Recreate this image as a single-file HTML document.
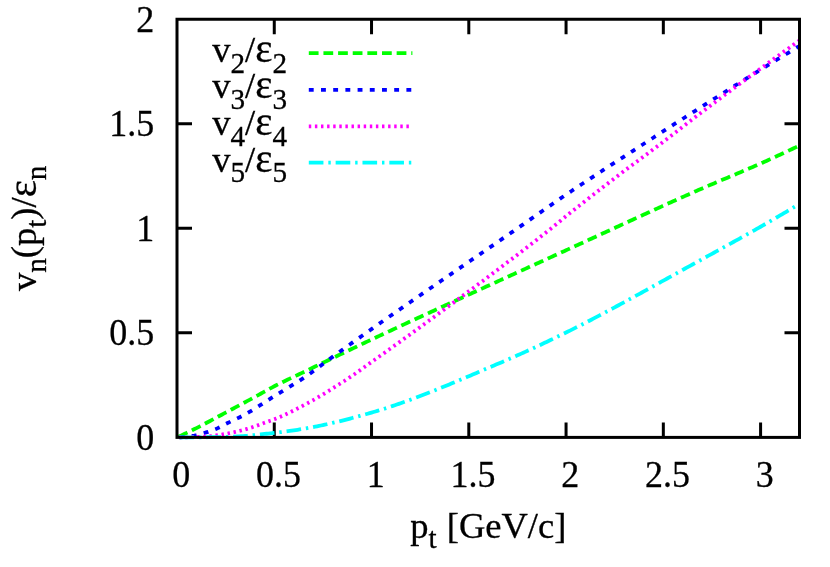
<!DOCTYPE html>
<html><head><meta charset="utf-8"><title>v_n(p_t)/eps_n</title>
<style>
html,body{margin:0;padding:0;background:#fff;}
body{width:830px;height:567px;overflow:hidden;}
svg{display:block;will-change:transform;}
text{font-family:"Liberation Serif",serif;fill:#000;stroke:#000;stroke-width:0.3px;font-kerning:none;white-space:pre;}
</style></head><body>
<svg width="830" height="567" viewBox="0 0 830 567">
<rect x="0" y="0" width="830" height="567" fill="#ffffff"/>
<defs><clipPath id="cp"><rect x="177.0" y="19.25" width="622.5" height="421.15"/></clipPath></defs>

<g fill="none" stroke="#000" stroke-width="3.0" stroke-linecap="butt">
<path d="M274.27 437.4 V422.40 M274.27 19.25 V34.25"/>
<path d="M371.53 437.4 V422.40 M371.53 19.25 V34.25"/>
<path d="M468.80 437.4 V422.40 M468.80 19.25 V34.25"/>
<path d="M566.06 437.4 V422.40 M566.06 19.25 V34.25"/>
<path d="M663.33 437.4 V422.40 M663.33 19.25 V34.25"/>
<path d="M760.59 437.4 V422.40 M760.59 19.25 V34.25"/>
<path d="M177.0 332.86 H192.00 M799.5 332.86 H784.50"/>
<path d="M177.0 228.32 H192.00 M799.5 228.32 H784.50"/>
<path d="M177.0 123.79 H192.00 M799.5 123.79 H784.50"/>
</g>
<g fill="none" stroke-width="3.80" clip-path="url(#cp)">
<path d="M177.00 437.40 L178.95 436.51 L180.89 435.61 L182.84 434.70 L184.78 433.78 L186.73 432.86 L188.67 431.92 L190.62 430.98 L192.56 430.03 L194.51 429.06 L196.45 428.08 L198.40 427.09 L200.34 426.09 L202.29 425.08 L204.23 424.06 L206.18 423.03 L208.12 422.00 L210.07 420.96 L212.02 419.92 L213.96 418.88 L215.91 417.83 L217.85 416.79 L219.80 415.75 L221.74 414.71 L223.69 413.68 L225.63 412.64 L227.58 411.61 L229.52 410.57 L231.47 409.53 L233.41 408.49 L235.36 407.44 L237.30 406.40 L239.25 405.35 L241.20 404.31 L243.14 403.26 L245.09 402.21 L247.03 401.16 L248.98 400.11 L250.92 399.05 L252.87 398.00 L254.81 396.94 L256.76 395.88 L258.70 394.80 L260.65 393.72 L262.59 392.63 L264.54 391.55 L266.48 390.47 L268.43 389.39 L270.38 388.34 L272.32 387.30 L274.27 386.28 L276.21 385.28 L278.16 384.30 L280.10 383.33 L282.05 382.37 L283.99 381.42 L285.94 380.48 L287.88 379.54 L289.83 378.62 L291.77 377.69 L293.72 376.77 L295.66 375.85 L297.61 374.93 L299.55 374.02 L301.50 373.10 L303.45 372.17 L305.39 371.24 L307.34 370.31 L309.28 369.37 L311.23 368.44 L313.17 367.50 L315.12 366.56 L317.06 365.62 L319.01 364.69 L320.95 363.75 L322.90 362.81 L324.84 361.87 L326.79 360.94 L328.73 360.00 L330.68 359.06 L332.62 358.12 L334.57 357.19 L336.52 356.25 L338.46 355.32 L340.41 354.38 L342.35 353.45 L344.30 352.51 L346.24 351.58 L348.19 350.65 L350.13 349.72 L352.08 348.79 L354.02 347.86 L355.97 346.93 L357.91 346.00 L359.86 345.08 L361.80 344.15 L363.75 343.23 L365.70 342.31 L367.64 341.39 L369.59 340.47 L371.53 339.55 L373.48 338.64 L375.42 337.72 L377.37 336.81 L379.31 335.90 L381.26 334.99 L383.20 334.07 L385.15 333.17 L387.09 332.26 L389.04 331.35 L390.98 330.44 L392.93 329.54 L394.88 328.63 L396.82 327.73 L398.77 326.83 L400.71 325.93 L402.66 325.02 L404.60 324.12 L406.55 323.22 L408.49 322.32 L410.44 321.43 L412.38 320.53 L414.33 319.63 L416.27 318.73 L418.22 317.84 L420.16 316.94 L422.11 316.04 L424.05 315.15 L426.00 314.25 L427.95 313.36 L429.89 312.46 L431.84 311.57 L433.78 310.68 L435.73 309.78 L437.67 308.89 L439.62 307.99 L441.56 307.10 L443.51 306.21 L445.45 305.31 L447.40 304.42 L449.34 303.53 L451.29 302.63 L453.23 301.74 L455.18 300.85 L457.12 299.95 L459.07 299.06 L461.02 298.17 L462.96 297.27 L464.91 296.38 L466.85 295.49 L468.80 294.60 L470.74 293.71 L472.69 292.82 L474.63 291.93 L476.58 291.04 L478.52 290.15 L480.47 289.26 L482.41 288.37 L484.36 287.48 L486.30 286.59 L488.25 285.70 L490.20 284.82 L492.14 283.93 L494.09 283.04 L496.03 282.15 L497.98 281.27 L499.92 280.38 L501.87 279.49 L503.81 278.61 L505.76 277.72 L507.70 276.83 L509.65 275.95 L511.59 275.06 L513.54 274.18 L515.48 273.29 L517.43 272.41 L519.38 271.52 L521.32 270.64 L523.27 269.75 L525.21 268.87 L527.16 267.98 L529.10 267.10 L531.05 266.21 L532.99 265.33 L534.94 264.44 L536.88 263.56 L538.83 262.67 L540.77 261.79 L542.72 260.90 L544.66 260.02 L546.61 259.13 L548.55 258.25 L550.50 257.36 L552.45 256.48 L554.39 255.59 L556.34 254.71 L558.28 253.82 L560.23 252.94 L562.17 252.05 L564.12 251.16 L566.06 250.28 L568.01 249.39 L569.95 248.50 L571.90 247.62 L573.84 246.73 L575.79 245.84 L577.73 244.95 L579.68 244.06 L581.62 243.17 L583.57 242.28 L585.52 241.38 L587.46 240.49 L589.41 239.60 L591.35 238.70 L593.30 237.81 L595.24 236.92 L597.19 236.02 L599.13 235.13 L601.08 234.23 L603.02 233.34 L604.97 232.44 L606.91 231.55 L608.86 230.65 L610.80 229.76 L612.75 228.86 L614.70 227.97 L616.64 227.07 L618.59 226.18 L620.53 225.28 L622.48 224.39 L624.42 223.50 L626.37 222.60 L628.31 221.71 L630.26 220.82 L632.20 219.92 L634.15 219.03 L636.09 218.14 L638.04 217.25 L639.98 216.36 L641.93 215.47 L643.88 214.58 L645.82 213.69 L647.77 212.80 L649.71 211.92 L651.66 211.03 L653.60 210.15 L655.55 209.26 L657.49 208.38 L659.44 207.49 L661.38 206.61 L663.33 205.73 L665.27 204.85 L667.22 203.97 L669.16 203.10 L671.11 202.22 L673.05 201.35 L675.00 200.47 L676.95 199.60 L678.89 198.73 L680.84 197.86 L682.78 196.99 L684.73 196.12 L686.67 195.26 L688.62 194.40 L690.56 193.53 L692.51 192.67 L694.45 191.81 L696.40 190.96 L698.34 190.10 L700.29 189.25 L702.23 188.40 L704.18 187.55 L706.12 186.71 L708.07 185.87 L710.02 185.04 L711.96 184.21 L713.91 183.39 L715.85 182.56 L717.80 181.74 L719.74 180.92 L721.69 180.10 L723.63 179.29 L725.58 178.47 L727.52 177.65 L729.47 176.84 L731.41 176.02 L733.36 175.21 L735.30 174.39 L737.25 173.57 L739.20 172.75 L741.14 171.93 L743.09 171.10 L745.03 170.28 L746.98 169.44 L748.92 168.61 L750.87 167.77 L752.81 166.93 L754.76 166.08 L756.70 165.23 L758.65 164.37 L760.59 163.51 L762.54 162.64 L764.48 161.77 L766.43 160.90 L768.38 160.02 L770.32 159.14 L772.27 158.25 L774.21 157.36 L776.16 156.47 L778.10 155.57 L780.05 154.67 L781.99 153.77 L783.94 152.86 L785.88 151.96 L787.83 151.05 L789.77 150.13 L791.72 149.22 L793.66 148.30 L795.61 147.38 L797.55 146.46 L799.50 145.53" stroke="#00ff00" stroke-dasharray="9.76 4.88" stroke-dashoffset="-1.8"/>
<path d="M177.00 437.40 L178.95 437.35 L180.89 437.25 L182.84 437.10 L184.78 436.90 L186.73 436.68 L188.67 436.43 L190.62 436.16 L192.56 435.87 L194.51 435.57 L196.45 435.18 L198.40 434.71 L200.34 434.17 L202.29 433.60 L204.23 433.01 L206.18 432.43 L208.12 431.82 L210.07 431.17 L212.02 430.49 L213.96 429.76 L215.91 428.99 L217.85 428.14 L219.80 427.16 L221.74 426.11 L223.69 425.05 L225.63 424.02 L227.58 423.05 L229.52 422.10 L231.47 421.16 L233.41 420.23 L235.36 419.31 L237.30 418.37 L239.25 417.42 L241.20 416.45 L243.14 415.44 L245.09 414.40 L247.03 413.32 L248.98 412.20 L250.92 411.05 L252.87 409.87 L254.81 408.67 L256.76 407.45 L258.70 406.21 L260.65 404.97 L262.59 403.71 L264.54 402.45 L266.48 401.19 L268.43 399.93 L270.38 398.68 L272.32 397.44 L274.27 396.21 L276.21 395.00 L278.16 393.80 L280.10 392.61 L282.05 391.42 L283.99 390.23 L285.94 389.05 L287.88 387.86 L289.83 386.67 L291.77 385.47 L293.72 384.27 L295.66 383.06 L297.61 381.83 L299.55 380.60 L301.50 379.34 L303.45 378.07 L305.39 376.77 L307.34 375.46 L309.28 374.11 L311.23 372.72 L313.17 371.31 L315.12 369.88 L317.06 368.43 L319.01 366.97 L320.95 365.50 L322.90 364.03 L324.84 362.57 L326.79 361.12 L328.73 359.68 L330.68 358.26 L332.62 356.85 L334.57 355.44 L336.52 354.04 L338.46 352.63 L340.41 351.23 L342.35 349.84 L344.30 348.44 L346.24 347.05 L348.19 345.65 L350.13 344.26 L352.08 342.88 L354.02 341.49 L355.97 340.11 L357.91 338.73 L359.86 337.35 L361.80 335.97 L363.75 334.59 L365.70 333.22 L367.64 331.84 L369.59 330.47 L371.53 329.10 L373.48 327.73 L375.42 326.36 L377.37 325.00 L379.31 323.63 L381.26 322.27 L383.20 320.91 L385.15 319.55 L387.09 318.19 L389.04 316.83 L390.98 315.47 L392.93 314.12 L394.88 312.76 L396.82 311.41 L398.77 310.06 L400.71 308.71 L402.66 307.36 L404.60 306.01 L406.55 304.66 L408.49 303.32 L410.44 301.97 L412.38 300.62 L414.33 299.28 L416.27 297.94 L418.22 296.59 L420.16 295.25 L422.11 293.91 L424.05 292.57 L426.00 291.23 L427.95 289.89 L429.89 288.55 L431.84 287.22 L433.78 285.88 L435.73 284.54 L437.67 283.20 L439.62 281.87 L441.56 280.53 L443.51 279.20 L445.45 277.86 L447.40 276.53 L449.34 275.19 L451.29 273.86 L453.23 272.52 L455.18 271.19 L457.12 269.86 L459.07 268.52 L461.02 267.19 L462.96 265.86 L464.91 264.52 L466.85 263.19 L468.80 261.85 L470.74 260.52 L472.69 259.19 L474.63 257.85 L476.58 256.52 L478.52 255.18 L480.47 253.85 L482.41 252.51 L484.36 251.18 L486.30 249.84 L488.25 248.50 L490.20 247.17 L492.14 245.83 L494.09 244.49 L496.03 243.15 L497.98 241.81 L499.92 240.47 L501.87 239.13 L503.81 237.79 L505.76 236.45 L507.70 235.11 L509.65 233.76 L511.59 232.42 L513.54 231.07 L515.48 229.73 L517.43 228.38 L519.38 227.03 L521.32 225.68 L523.27 224.32 L525.21 222.96 L527.16 221.60 L529.10 220.24 L531.05 218.88 L532.99 217.52 L534.94 216.16 L536.88 214.80 L538.83 213.44 L540.77 212.08 L542.72 210.73 L544.66 209.37 L546.61 208.02 L548.55 206.66 L550.50 205.32 L552.45 203.97 L554.39 202.63 L556.34 201.29 L558.28 199.95 L560.23 198.62 L562.17 197.30 L564.12 195.98 L566.06 194.66 L568.01 193.35 L569.95 192.05 L571.90 190.74 L573.84 189.44 L575.79 188.14 L577.73 186.84 L579.68 185.55 L581.62 184.26 L583.57 182.97 L585.52 181.68 L587.46 180.40 L589.41 179.12 L591.35 177.84 L593.30 176.56 L595.24 175.28 L597.19 174.01 L599.13 172.74 L601.08 171.47 L603.02 170.20 L604.97 168.93 L606.91 167.66 L608.86 166.40 L610.80 165.13 L612.75 163.87 L614.70 162.61 L616.64 161.35 L618.59 160.09 L620.53 158.83 L622.48 157.57 L624.42 156.31 L626.37 155.06 L628.31 153.80 L630.26 152.55 L632.20 151.29 L634.15 150.04 L636.09 148.78 L638.04 147.53 L639.98 146.27 L641.93 145.02 L643.88 143.76 L645.82 142.50 L647.77 141.25 L649.71 139.99 L651.66 138.74 L653.60 137.48 L655.55 136.22 L657.49 134.97 L659.44 133.72 L661.38 132.46 L663.33 131.21 L665.27 129.96 L667.22 128.71 L669.16 127.46 L671.11 126.22 L673.05 124.97 L675.00 123.72 L676.95 122.48 L678.89 121.23 L680.84 119.99 L682.78 118.75 L684.73 117.50 L686.67 116.26 L688.62 115.02 L690.56 113.78 L692.51 112.54 L694.45 111.31 L696.40 110.07 L698.34 108.83 L700.29 107.60 L702.23 106.36 L704.18 105.13 L706.12 103.89 L708.07 102.66 L710.02 101.43 L711.96 100.19 L713.91 98.96 L715.85 97.73 L717.80 96.50 L719.74 95.27 L721.69 94.04 L723.63 92.81 L725.58 91.58 L727.52 90.35 L729.47 89.13 L731.41 87.90 L733.36 86.68 L735.30 85.46 L737.25 84.24 L739.20 83.02 L741.14 81.80 L743.09 80.59 L745.03 79.37 L746.98 78.16 L748.92 76.95 L750.87 75.74 L752.81 74.53 L754.76 73.33 L756.70 72.12 L758.65 70.92 L760.59 69.72 L762.54 68.52 L764.48 67.32 L766.43 66.13 L768.38 64.93 L770.32 63.74 L772.27 62.55 L774.21 61.36 L776.16 60.17 L778.10 58.98 L780.05 57.79 L781.99 56.61 L783.94 55.43 L785.88 54.24 L787.83 53.06 L789.77 51.88 L791.72 50.71 L793.66 49.53 L795.61 48.36 L797.55 47.18 L799.50 46.01" stroke="#0000ff" stroke-dasharray="4.88 7.32" stroke-dashoffset="-2.7"/>
<path d="M177.00 437.40 L178.95 437.40 L180.89 437.38 L182.84 437.36 L184.78 437.33 L186.73 437.29 L188.67 437.24 L190.62 437.19 L192.56 437.13 L194.51 437.07 L196.45 437.00 L198.40 436.92 L200.34 436.84 L202.29 436.75 L204.23 436.66 L206.18 436.56 L208.12 436.44 L210.07 436.26 L212.02 436.05 L213.96 435.79 L215.91 435.50 L217.85 435.19 L219.80 434.87 L221.74 434.53 L223.69 434.19 L225.63 433.85 L227.58 433.50 L229.52 433.13 L231.47 432.74 L233.41 432.32 L235.36 431.89 L237.30 431.44 L239.25 430.97 L241.20 430.48 L243.14 429.97 L245.09 429.46 L247.03 428.91 L248.98 428.32 L250.92 427.70 L252.87 427.05 L254.81 426.37 L256.76 425.68 L258.70 424.97 L260.65 424.26 L262.59 423.54 L264.54 422.82 L266.48 422.11 L268.43 421.41 L270.38 420.73 L272.32 420.06 L274.27 419.34 L276.21 418.55 L278.16 417.74 L280.10 416.91 L282.05 416.05 L283.99 415.16 L285.94 414.26 L287.88 413.33 L289.83 412.39 L291.77 411.43 L293.72 410.46 L295.66 409.47 L297.61 408.46 L299.55 407.45 L301.50 406.43 L303.45 405.40 L305.39 404.36 L307.34 403.32 L309.28 402.27 L311.23 401.19 L313.17 400.11 L315.12 399.00 L317.06 397.88 L319.01 396.75 L320.95 395.60 L322.90 394.44 L324.84 393.26 L326.79 392.08 L328.73 390.88 L330.68 389.68 L332.62 388.46 L334.57 387.23 L336.52 386.00 L338.46 384.76 L340.41 383.51 L342.35 382.25 L344.30 380.99 L346.24 379.72 L348.19 378.43 L350.13 377.12 L352.08 375.79 L354.02 374.44 L355.97 373.09 L357.91 371.72 L359.86 370.34 L361.80 368.96 L363.75 367.57 L365.70 366.18 L367.64 364.79 L369.59 363.41 L371.53 362.03 L373.48 360.65 L375.42 359.27 L377.37 357.89 L379.31 356.51 L381.26 355.12 L383.20 353.74 L385.15 352.35 L387.09 350.96 L389.04 349.57 L390.98 348.18 L392.93 346.79 L394.88 345.39 L396.82 344.00 L398.77 342.60 L400.71 341.20 L402.66 339.80 L404.60 338.40 L406.55 336.99 L408.49 335.59 L410.44 334.18 L412.38 332.77 L414.33 331.36 L416.27 329.95 L418.22 328.54 L420.16 327.13 L422.11 325.71 L424.05 324.29 L426.00 322.87 L427.95 321.45 L429.89 320.03 L431.84 318.61 L433.78 317.18 L435.73 315.76 L437.67 314.33 L439.62 312.90 L441.56 311.47 L443.51 310.04 L445.45 308.60 L447.40 307.17 L449.34 305.73 L451.29 304.29 L453.23 302.85 L455.18 301.41 L457.12 299.96 L459.07 298.52 L461.02 297.08 L462.96 295.63 L464.91 294.19 L466.85 292.75 L468.80 291.30 L470.74 289.85 L472.69 288.40 L474.63 286.96 L476.58 285.51 L478.52 284.06 L480.47 282.60 L482.41 281.15 L484.36 279.69 L486.30 278.24 L488.25 276.78 L490.20 275.32 L492.14 273.86 L494.09 272.40 L496.03 270.93 L497.98 269.47 L499.92 268.00 L501.87 266.53 L503.81 265.06 L505.76 263.58 L507.70 262.11 L509.65 260.63 L511.59 259.15 L513.54 257.66 L515.48 256.18 L517.43 254.69 L519.38 253.20 L521.32 251.70 L523.27 250.21 L525.21 248.71 L527.16 247.20 L529.10 245.70 L531.05 244.19 L532.99 242.68 L534.94 241.16 L536.88 239.64 L538.83 238.12 L540.77 236.60 L542.72 235.07 L544.66 233.54 L546.61 232.00 L548.55 230.46 L550.50 228.91 L552.45 227.34 L554.39 225.75 L556.34 224.16 L558.28 222.55 L560.23 220.95 L562.17 219.35 L564.12 217.77 L566.06 216.20 L568.01 214.64 L569.95 213.09 L571.90 211.54 L573.84 209.99 L575.79 208.45 L577.73 206.90 L579.68 205.37 L581.62 203.83 L583.57 202.30 L585.52 200.77 L587.46 199.24 L589.41 197.71 L591.35 196.19 L593.30 194.67 L595.24 193.16 L597.19 191.65 L599.13 190.14 L601.08 188.63 L603.02 187.12 L604.97 185.62 L606.91 184.12 L608.86 182.63 L610.80 181.13 L612.75 179.64 L614.70 178.15 L616.64 176.67 L618.59 175.19 L620.53 173.71 L622.48 172.25 L624.42 170.79 L626.37 169.33 L628.31 167.88 L630.26 166.43 L632.20 164.99 L634.15 163.55 L636.09 162.11 L638.04 160.67 L639.98 159.23 L641.93 157.80 L643.88 156.36 L645.82 154.92 L647.77 153.48 L649.71 152.04 L651.66 150.59 L653.60 149.14 L655.55 147.69 L657.49 146.23 L659.44 144.76 L661.38 143.29 L663.33 141.81 L665.27 140.33 L667.22 138.84 L669.16 137.35 L671.11 135.85 L673.05 134.35 L675.00 132.85 L676.95 131.34 L678.89 129.84 L680.84 128.33 L682.78 126.82 L684.73 125.31 L686.67 123.81 L688.62 122.30 L690.56 120.80 L692.51 119.30 L694.45 117.80 L696.40 116.30 L698.34 114.81 L700.29 113.33 L702.23 111.85 L704.18 110.37 L706.12 108.90 L708.07 107.43 L710.02 105.97 L711.96 104.51 L713.91 103.05 L715.85 101.59 L717.80 100.14 L719.74 98.69 L721.69 97.24 L723.63 95.79 L725.58 94.34 L727.52 92.90 L729.47 91.46 L731.41 90.02 L733.36 88.58 L735.30 87.14 L737.25 85.71 L739.20 84.27 L741.14 82.84 L743.09 81.41 L745.03 79.98 L746.98 78.55 L748.92 77.12 L750.87 75.69 L752.81 74.26 L754.76 72.84 L756.70 71.41 L758.65 69.99 L760.59 68.57 L762.54 67.15 L764.48 65.73 L766.43 64.32 L768.38 62.90 L770.32 61.49 L772.27 60.07 L774.21 58.66 L776.16 57.25 L778.10 55.85 L780.05 54.44 L781.99 53.03 L783.94 51.63 L785.88 50.23 L787.83 48.83 L789.77 47.43 L791.72 46.03 L793.66 44.63 L795.61 43.24 L797.55 41.84 L799.50 40.45" stroke="#ff00ff" stroke-dasharray="2.44 3.66" stroke-dashoffset="-2.0"/>
<path d="M177.00 437.40 L178.95 437.40 L180.89 437.40 L182.84 437.39 L184.78 437.39 L186.73 437.38 L188.67 437.37 L190.62 437.36 L192.56 437.35 L194.51 437.34 L196.45 437.33 L198.40 437.31 L200.34 437.29 L202.29 437.28 L204.23 437.26 L206.18 437.24 L208.12 437.22 L210.07 437.20 L212.02 437.17 L213.96 437.15 L215.91 437.12 L217.85 437.10 L219.80 437.07 L221.74 437.04 L223.69 437.01 L225.63 436.98 L227.58 436.94 L229.52 436.89 L231.47 436.82 L233.41 436.73 L235.36 436.63 L237.30 436.51 L239.25 436.39 L241.20 436.25 L243.14 436.10 L245.09 435.94 L247.03 435.77 L248.98 435.60 L250.92 435.41 L252.87 435.22 L254.81 435.02 L256.76 434.82 L258.70 434.61 L260.65 434.40 L262.59 434.19 L264.54 433.98 L266.48 433.76 L268.43 433.54 L270.38 433.33 L272.32 433.12 L274.27 432.90 L276.21 432.69 L278.16 432.47 L280.10 432.23 L282.05 431.99 L283.99 431.74 L285.94 431.48 L287.88 431.22 L289.83 430.94 L291.77 430.66 L293.72 430.37 L295.66 430.07 L297.61 429.76 L299.55 429.45 L301.50 429.13 L303.45 428.80 L305.39 428.47 L307.34 428.13 L309.28 427.78 L311.23 427.43 L313.17 427.06 L315.12 426.68 L317.06 426.30 L319.01 425.90 L320.95 425.50 L322.90 425.09 L324.84 424.67 L326.79 424.24 L328.73 423.81 L330.68 423.36 L332.62 422.91 L334.57 422.45 L336.52 421.99 L338.46 421.52 L340.41 421.04 L342.35 420.55 L344.30 420.06 L346.24 419.56 L348.19 419.06 L350.13 418.55 L352.08 418.03 L354.02 417.51 L355.97 416.98 L357.91 416.45 L359.86 415.92 L361.80 415.37 L363.75 414.83 L365.70 414.28 L367.64 413.72 L369.59 413.17 L371.53 412.60 L373.48 412.04 L375.42 411.46 L377.37 410.87 L379.31 410.28 L381.26 409.67 L383.20 409.06 L385.15 408.44 L387.09 407.81 L389.04 407.18 L390.98 406.53 L392.93 405.88 L394.88 405.22 L396.82 404.55 L398.77 403.88 L400.71 403.20 L402.66 402.51 L404.60 401.82 L406.55 401.12 L408.49 400.41 L410.44 399.70 L412.38 398.98 L414.33 398.26 L416.27 397.53 L418.22 396.79 L420.16 396.05 L422.11 395.30 L424.05 394.55 L426.00 393.79 L427.95 393.03 L429.89 392.27 L431.84 391.50 L433.78 390.72 L435.73 389.94 L437.67 389.16 L439.62 388.37 L441.56 387.58 L443.51 386.79 L445.45 385.99 L447.40 385.19 L449.34 384.39 L451.29 383.58 L453.23 382.78 L455.18 381.96 L457.12 381.15 L459.07 380.34 L461.02 379.52 L462.96 378.70 L464.91 377.88 L466.85 377.05 L468.80 376.23 L470.74 375.40 L472.69 374.58 L474.63 373.75 L476.58 372.92 L478.52 372.09 L480.47 371.26 L482.41 370.43 L484.36 369.60 L486.30 368.77 L488.25 367.94 L490.20 367.11 L492.14 366.28 L494.09 365.45 L496.03 364.62 L497.98 363.80 L499.92 362.97 L501.87 362.14 L503.81 361.31 L505.76 360.47 L507.70 359.63 L509.65 358.78 L511.59 357.93 L513.54 357.08 L515.48 356.22 L517.43 355.36 L519.38 354.49 L521.32 353.62 L523.27 352.74 L525.21 351.86 L527.16 350.98 L529.10 350.09 L531.05 349.20 L532.99 348.30 L534.94 347.40 L536.88 346.50 L538.83 345.59 L540.77 344.68 L542.72 343.76 L544.66 342.84 L546.61 341.92 L548.55 340.99 L550.50 340.06 L552.45 339.13 L554.39 338.19 L556.34 337.25 L558.28 336.31 L560.23 335.37 L562.17 334.42 L564.12 333.46 L566.06 332.51 L568.01 331.55 L569.95 330.58 L571.90 329.61 L573.84 328.64 L575.79 327.66 L577.73 326.68 L579.68 325.69 L581.62 324.70 L583.57 323.71 L585.52 322.71 L587.46 321.71 L589.41 320.70 L591.35 319.69 L593.30 318.68 L595.24 317.66 L597.19 316.64 L599.13 315.62 L601.08 314.60 L603.02 313.57 L604.97 312.53 L606.91 311.50 L608.86 310.46 L610.80 309.42 L612.75 308.38 L614.70 307.33 L616.64 306.28 L618.59 305.23 L620.53 304.18 L622.48 303.12 L624.42 302.07 L626.37 301.01 L628.31 299.95 L630.26 298.88 L632.20 297.82 L634.15 296.75 L636.09 295.69 L638.04 294.62 L639.98 293.55 L641.93 292.48 L643.88 291.40 L645.82 290.33 L647.77 289.25 L649.71 288.18 L651.66 287.10 L653.60 286.03 L655.55 284.95 L657.49 283.87 L659.44 282.79 L661.38 281.71 L663.33 280.63 L665.27 279.55 L667.22 278.47 L669.16 277.39 L671.11 276.32 L673.05 275.24 L675.00 274.16 L676.95 273.08 L678.89 272.00 L680.84 270.93 L682.78 269.85 L684.73 268.77 L686.67 267.70 L688.62 266.62 L690.56 265.55 L692.51 264.48 L694.45 263.41 L696.40 262.34 L698.34 261.27 L700.29 260.21 L702.23 259.14 L704.18 258.08 L706.12 257.01 L708.07 255.95 L710.02 254.88 L711.96 253.81 L713.91 252.75 L715.85 251.68 L717.80 250.61 L719.74 249.54 L721.69 248.48 L723.63 247.40 L725.58 246.33 L727.52 245.26 L729.47 244.19 L731.41 243.11 L733.36 242.03 L735.30 240.96 L737.25 239.88 L739.20 238.79 L741.14 237.71 L743.09 236.62 L745.03 235.54 L746.98 234.44 L748.92 233.35 L750.87 232.26 L752.81 231.16 L754.76 230.06 L756.70 228.95 L758.65 227.85 L760.59 226.74 L762.54 225.62 L764.48 224.51 L766.43 223.39 L768.38 222.26 L770.32 221.14 L772.27 220.01 L774.21 218.88 L776.16 217.74 L778.10 216.60 L780.05 215.46 L781.99 214.32 L783.94 213.17 L785.88 212.03 L787.83 210.88 L789.77 209.72 L791.72 208.57 L793.66 207.41 L795.61 206.25 L797.55 205.09 L799.50 203.93" stroke="#00ffff" stroke-dasharray="14.64 4.88 2.44 4.88" stroke-dashoffset="-2.5"/>
</g>
<g fill="none" stroke-width="3.80">
<path d="M308.8 53.2 L412.4 53.2" stroke="#00ff00" stroke-dasharray="9.76 4.88"/>
<path d="M308.8 89.85 L412.4 89.85" stroke="#0000ff" stroke-dasharray="4.88 7.32"/>
<path d="M308.8 126.45 L412.4 126.45" stroke="#ff00ff" stroke-dasharray="2.44 3.66"/>
<path d="M308.8 162.7 L412.4 162.7" stroke="#00ffff" stroke-dasharray="14.64 4.88 2.44 4.88"/>
</g>
<rect x="177.0" y="19.25" width="622.5" height="418.15" fill="none" stroke="#000" stroke-width="3.0"/>
<g font-size="38.4">
<text transform="translate(154.3 449.98) scale(0.937 1)" text-anchor="end">0</text>
<text transform="translate(154.3 345.44) scale(0.937 1)" text-anchor="end">0.5</text>
<text transform="translate(154.3 240.90) scale(0.937 1)" text-anchor="end">1</text>
<text transform="translate(154.3 136.37) scale(0.937 1)" text-anchor="end">1.5</text>
<text transform="translate(154.3 31.83) scale(0.937 1)" text-anchor="end">2</text>
<text transform="translate(181.20 487.3) scale(0.937 1)" text-anchor="middle">0</text>
<text transform="translate(278.47 487.3) scale(0.937 1)" text-anchor="middle">0.5</text>
<text transform="translate(375.73 487.3) scale(0.937 1)" text-anchor="middle">1</text>
<text transform="translate(473.00 487.3) scale(0.937 1)" text-anchor="middle">1.5</text>
<text transform="translate(570.26 487.3) scale(0.937 1)" text-anchor="middle">2</text>
<text transform="translate(667.53 487.3) scale(0.937 1)" text-anchor="middle">2.5</text>
<text transform="translate(764.79 487.3) scale(0.937 1)" text-anchor="middle">3</text>
</g>
<g transform="translate(410.20 537.50)"><text transform="translate(0.00 0.00) scale(1.0000 1)" font-size="36.50">p</text><text transform="translate(18.25 10.95) scale(1.0000 1)" font-size="29.20">t</text><text transform="translate(26.36 0.00) scale(1.1200 1)" font-size="36.50"> </text><text transform="translate(36.58 0.00) scale(1.0000 1)" font-size="36.50">[GeV/c]</text></g>
<g transform="translate(35.50 291.00) rotate(-90)"><text transform="translate(0.00 0.00) scale(1.0000 1)" font-size="36.50">v</text><text transform="translate(18.25 10.95) scale(1.0000 1)" font-size="29.20">n</text><text transform="translate(32.85 0.00) scale(1.0000 1)" font-size="36.50">(p</text><text transform="translate(63.25 10.95) scale(1.0000 1)" font-size="29.20">t</text><text transform="translate(71.37 0.00) scale(1.0000 1)" font-size="36.50">)/</text><text transform="translate(93.66 0.00) scale(1.0300 1)" font-size="39.79">ε</text><text transform="translate(110.87 10.95) scale(1.0000 1)" font-size="29.20">n</text></g>
<g transform="translate(287.00 61.80)"><text transform="translate(-74.80 0.00) scale(1.0000 1)" font-size="36.50">v</text><text transform="translate(-56.55 10.95) scale(1.0000 1)" font-size="29.20">2</text><text transform="translate(-41.95 0.00) scale(1.0000 1)" font-size="36.50">/</text><text transform="translate(-31.81 0.00) scale(1.0300 1)" font-size="39.79">ε</text><text transform="translate(-14.60 10.95) scale(1.0000 1)" font-size="29.20">2</text></g>
<g transform="translate(287.00 98.40)"><text transform="translate(-74.80 0.00) scale(1.0000 1)" font-size="36.50">v</text><text transform="translate(-56.55 10.95) scale(1.0000 1)" font-size="29.20">3</text><text transform="translate(-41.95 0.00) scale(1.0000 1)" font-size="36.50">/</text><text transform="translate(-31.81 0.00) scale(1.0300 1)" font-size="39.79">ε</text><text transform="translate(-14.60 10.95) scale(1.0000 1)" font-size="29.20">3</text></g>
<g transform="translate(287.00 135.00)"><text transform="translate(-74.80 0.00) scale(1.0000 1)" font-size="36.50">v</text><text transform="translate(-56.55 10.95) scale(1.0000 1)" font-size="29.20">4</text><text transform="translate(-41.95 0.00) scale(1.0000 1)" font-size="36.50">/</text><text transform="translate(-31.81 0.00) scale(1.0300 1)" font-size="39.79">ε</text><text transform="translate(-14.60 10.95) scale(1.0000 1)" font-size="29.20">4</text></g>
<g transform="translate(287.00 171.50)"><text transform="translate(-74.80 0.00) scale(1.0000 1)" font-size="36.50">v</text><text transform="translate(-56.55 10.95) scale(1.0000 1)" font-size="29.20">5</text><text transform="translate(-41.95 0.00) scale(1.0000 1)" font-size="36.50">/</text><text transform="translate(-31.81 0.00) scale(1.0300 1)" font-size="39.79">ε</text><text transform="translate(-14.60 10.95) scale(1.0000 1)" font-size="29.20">5</text></g>
</svg></body></html>
